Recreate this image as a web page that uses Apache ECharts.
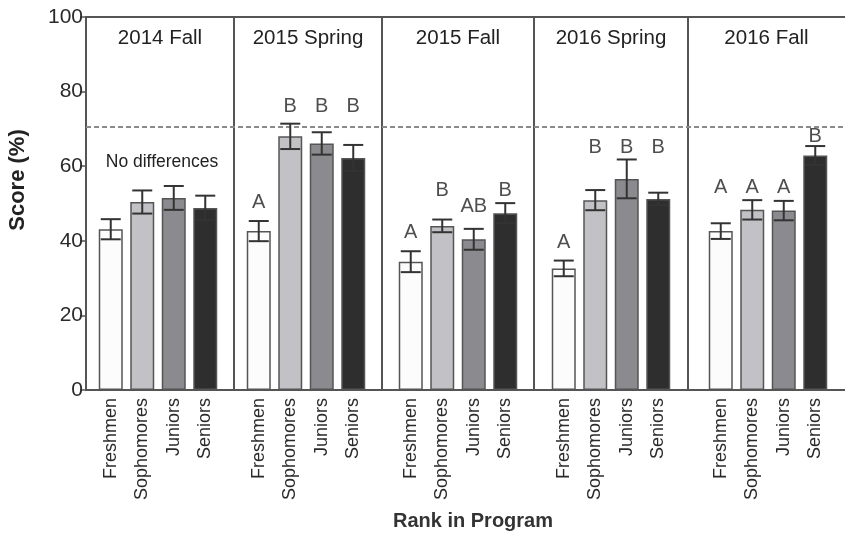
<!DOCTYPE html>
<html>
<head>
<meta charset="utf-8">
<script src="https://cdn.jsdelivr.net/npm/echarts@6/dist/echarts.min.js"></script>
<style>
  html, body { margin: 0; padding: 0; background: #fff; }
  #chart { width: 845px; height: 538px; }
</style>
</head>
<body>
<div id="chart"></div>
<script>
// 分组与类别
const terms = ['2014 Fall', '2015 Spring', '2015 Fall', '2016 Spring', '2016 Fall'];
const ranks = ['Freshmen', 'Sophomores', 'Juniors', 'Seniors'];
// 平均分 (每学期 4 个年级)
const means = [
  [43.1, 50.4, 51.5, 48.8],
  [42.6, 68.0, 66.1, 62.2],
  [34.4, 44.0, 40.4, 47.4],
  [32.6, 50.9, 56.6, 51.2],
  [42.6, 48.3, 48.1, 62.9]
];
// 误差
const errs = [
  [2.7, 3.1, 3.2, 3.3],
  [2.7, 3.4, 3.0, 3.5],
  [2.8, 1.7, 2.8, 2.7],
  [2.1, 2.7, 5.2, 1.7],
  [2.1, 2.6, 2.6, 2.5]
];
// 显著性字母及其高度
const letters = [
  ['', '', '', ''],
  ['A', 'B', 'B', 'B'],
  ['A', 'B', 'AB', 'B'],
  ['A', 'B', 'B', 'B'],
  ['A', 'A', 'A', 'B']
];
const letterLevels = [
  [0, 0, 0, 0],
  [50.2, 75.9, 75.9, 75.9],
  [42.3, 53.6, 49.3, 53.6],
  [39.5, 64.9, 64.9, 64.9],
  [54.4, 54.4, 54.4, 68.0]
];
const threshold = 70.5;
const yTicks = [0, 20, 40, 60, 80, 100];

const rankColors = ['#fcfcfc', '#c2c2c6', '#8b8b8f', '#2e2e2e'];
const font = 'Liberation Sans, Arial, sans-serif';

// 面板布局
const plotLeft = 86, plotTop = 17, plotBottom = 148;
const panelEdges = [86, 234, 382, 534, 688, 845];
const barGridLeft = [95, 243, 395, 548, 705];
const barGridWidth = 126;

let chart = echarts.init(document.getElementById('chart'));

let grids = [{left: plotLeft, top: plotTop, right: 0, bottom: plotBottom}];
let xAxes = [
  {gridIndex: 0, type: 'value', min: 0, max: 1, position: 'bottom',
    axisLine: {show: true, lineStyle: {color: '#555', width: 2}},
    axisTick: {show: false}, axisLabel: {show: false}, splitLine: {show: false}},
  {gridIndex: 0, type: 'value', min: 0, max: 1, position: 'top',
    axisLine: {show: true, lineStyle: {color: '#555', width: 2}},
    axisTick: {show: false}, axisLabel: {show: false}, splitLine: {show: false}}
];
let yAxes = [
  {gridIndex: 0, type: 'value', min: 0, max: 100, interval: 20,
    axisLine: {show: true, lineStyle: {color: '#555', width: 2}},
    axisTick: {show: true, length: 6, lineStyle: {color: '#555', width: 1.5}},
    axisLabel: {color: '#2a2a2a', fontSize: 21, fontFamily: font, margin: 3,
      formatter: v => yTicks.indexOf(v) >= 0 ? String(v) : ''},
    splitLine: {show: false}}
];
let series = [
  {type: 'line', xAxisIndex: 0, yAxisIndex: 0, data: [], silent: true,
    markLine: {symbol: 'none', silent: true, label: {show: false},
      lineStyle: {type: [5, 3], color: '#8a8a8a', width: 2},
      data: [{yAxis: threshold}]}}
];

terms.forEach((term, i) => {
  let g = i + 1;
  grids.push({left: barGridLeft[i], width: barGridWidth, top: plotTop, bottom: plotBottom});
  xAxes.push({gridIndex: g, type: 'category', data: ranks,
    axisLine: {show: false}, axisTick: {show: false},
    axisLabel: {rotate: 90, fontSize: 18, color: '#2a2a2a', fontFamily: font, margin: 8, interval: 0}});
  yAxes.push({gridIndex: g, type: 'value', min: 0, max: 100, show: false});
  // 柱子
  series.push({type: 'bar', xAxisIndex: g + 1, yAxisIndex: g, barWidth: 24,
    data: means[i].map((v, j) => ({value: v,
      itemStyle: {color: rankColors[j], borderColor: '#555', borderWidth: 1.5}}))});
  // 误差线
  series.push({type: 'custom', xAxisIndex: g + 1, yAxisIndex: g, z: 5,
    data: means[i].map((v, j) => [j, v, errs[i][j]]),
    renderItem: (params, api) => {
      let x = api.value(0), m = api.value(1), e = api.value(2);
      let top = api.coord([x, m + e]);
      let bot = api.coord([x, m - e]);
      let hw = 10;
      let style = {stroke: '#333', lineWidth: 2};
      return {type: 'group', children: [
        {type: 'line', shape: {x1: top[0], y1: top[1], x2: bot[0], y2: bot[1]}, style: style},
        {type: 'line', shape: {x1: top[0] - hw, y1: top[1], x2: top[0] + hw, y2: top[1]}, style: style},
        {type: 'line', shape: {x1: bot[0] - hw, y1: bot[1], x2: bot[0] + hw, y2: bot[1]}, style: style}
      ]};
    }});
  // 显著性字母
  series.push({type: 'scatter', xAxisIndex: g + 1, yAxisIndex: g, symbolSize: 1, silent: true,
    itemStyle: {color: 'rgba(0,0,0,0)'},
    label: {show: true, position: 'inside', fontSize: 20, color: '#222', fontFamily: font,
      formatter: p => letters[i][p.dataIndex]},
    data: letters[i].map((l, j) => l ? [j, letterLevels[i][j]] : [j, -10])});
});

// 面板分隔线与标题
let graphics = [];
for (let k = 1; k < panelEdges.length - 1; k++) {
  graphics.push({type: 'line', shape: {x1: panelEdges[k], y1: plotTop, x2: panelEdges[k], y2: 538 - plotBottom},
    style: {stroke: '#555', lineWidth: 2}});
}
terms.forEach((term, i) => {
  graphics.push({type: 'text', x: (panelEdges[i] + panelEdges[i + 1]) / 2, y: 38,
    style: {text: term, fill: '#222', font: '20.5px ' + font, textAlign: 'center', textVerticalAlign: 'middle'}});
});
graphics.push({type: 'text', x: 162, y: 162,
  style: {text: 'No differences', fill: '#222', font: '17.5px ' + font, textAlign: 'center', textVerticalAlign: 'middle'}});
graphics.push({type: 'text', x: 18, y: 180, rotation: Math.PI / 2,
  style: {text: 'Score (%)', fill: '#222', font: 'bold 22px ' + font, textAlign: 'center', textVerticalAlign: 'middle'}});
graphics.push({type: 'text', x: 473, y: 521,
  style: {text: 'Rank in Program', fill: '#333', font: 'bold 20px ' + font, textAlign: 'center', textVerticalAlign: 'middle'}});

chart.setOption({
  animation: false,
  backgroundColor: '#fff',
  grid: grids,
  xAxis: xAxes,
  yAxis: yAxes,
  series: series,
  graphic: graphics
});
</script>
</body>
</html>
